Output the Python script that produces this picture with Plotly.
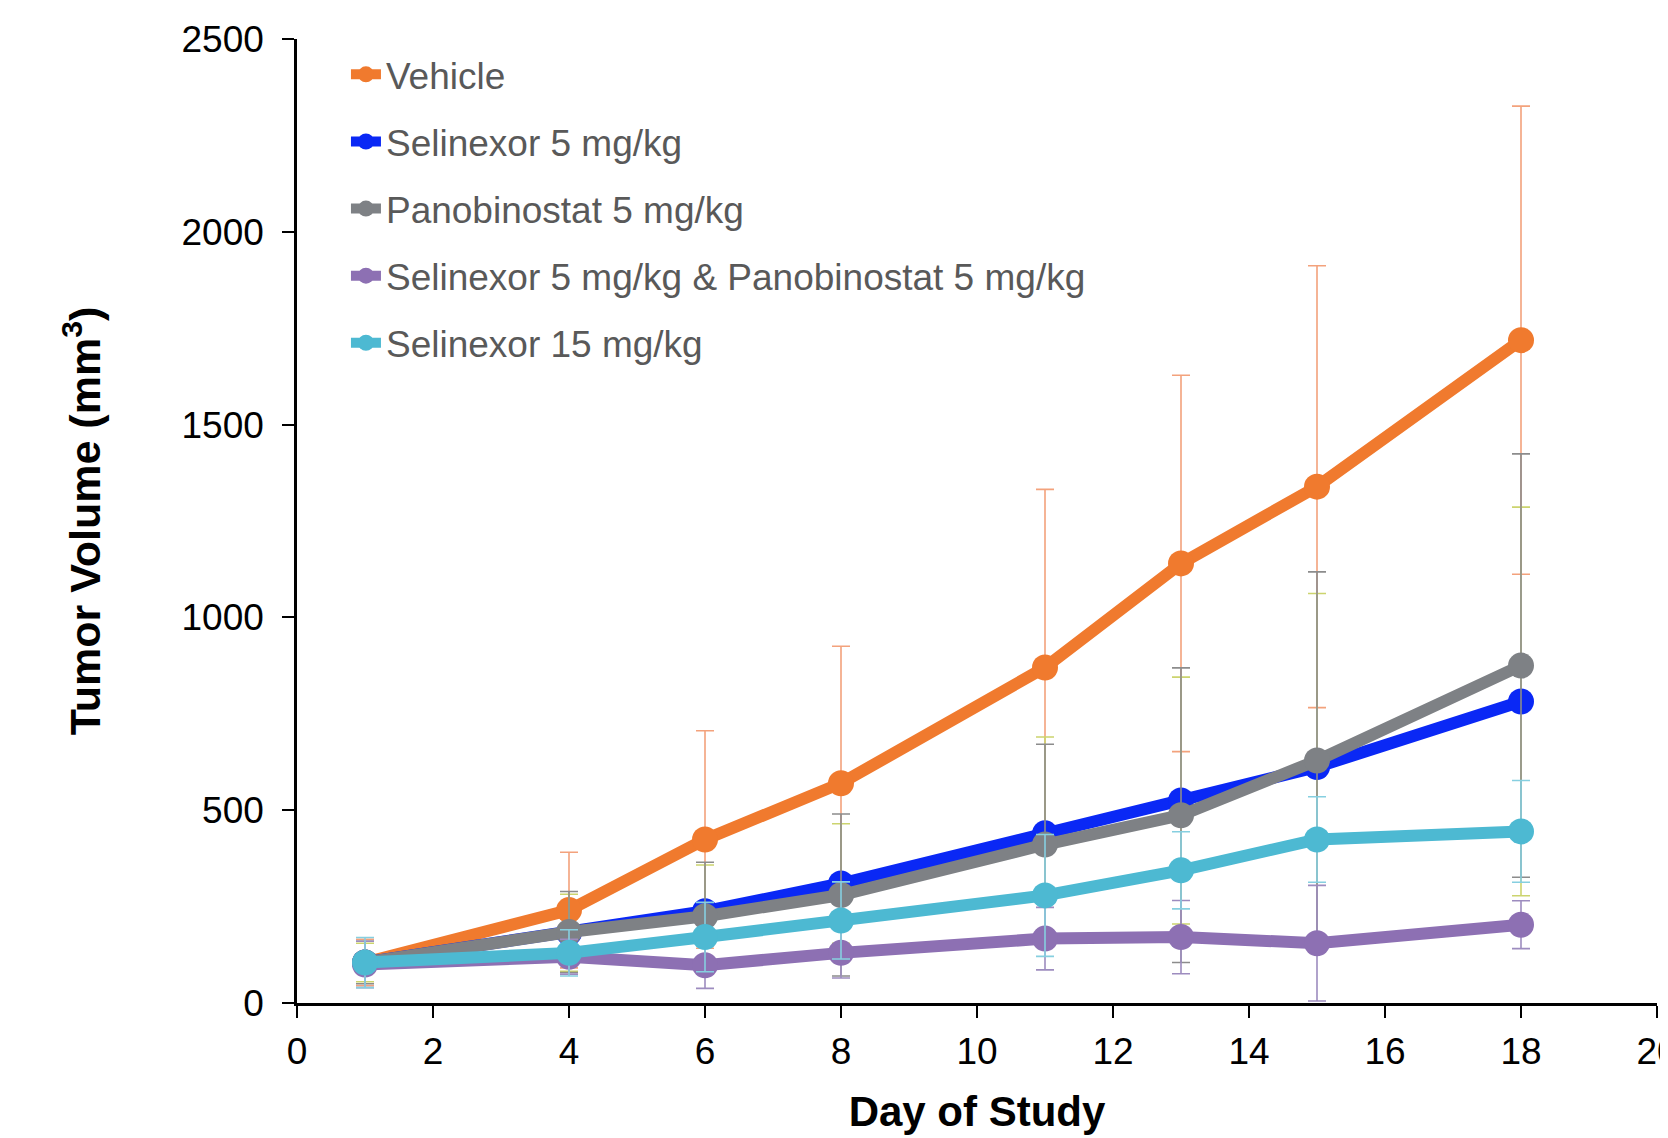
import plotly.graph_objects as go

days = [1, 4, 6, 8, 11, 13, 15, 18]

series_names = [
    "Vehicle",
    "Selinexor 5 mg/kg",
    "Panobinostat 5 mg/kg",
    "Selinexor 5 mg/kg & Panobinostat 5 mg/kg",
    "Selinexor 15 mg/kg",
]

vehicle = [105, 241, 424, 570, 870, 1140, 1339, 1719]
vehicle_sd = [60, 150, 282, 355, 462, 488, 573, 607]

selinexor5 = [105, 182, 238, 310, 440, 525, 612, 782]
selinexor5_sd = [50, 100, 120, 155, 250, 320, 450, 504]

panobinostat5 = [105, 184, 225, 280, 411, 487, 629, 875]
panobinostat5_sd = [55, 105, 140, 210, 260, 382, 489, 549]

combo = [100, 120, 98, 130, 167, 171, 155, 203]
combo_sd = [60, 45, 60, 65, 81, 95, 150, 62]

selinexor15 = [105, 130, 171, 214, 279, 344, 424, 445]
selinexor15_sd = [65, 60, 90, 100, 158, 100, 111, 132]

values = [vehicle, selinexor5, panobinostat5, combo, selinexor15]
errors = [vehicle_sd, selinexor5_sd, panobinostat5_sd, combo_sd, selinexor15_sd]

line_colors = ["#F07A2E", "#0A28F5", "#7E8185", "#8D70B3", "#4DB9D2"]
err_colors = ["#F3A27C", "#CCD46E", "#8C8C8C", "#9D8CBF", "#86CFE0"]

y_ticks = [0, 500, 1000, 1500, 2000, 2500]
x_ticks = [0, 2, 4, 6, 8, 10, 12, 14, 16, 18, 20]

font_family = "Liberation Sans, Arial, sans-serif"

fig = go.Figure()
for i, (name, vals, sd) in enumerate(zip(series_names, values, errors)):
    fig.add_trace(go.Scatter(
        x=days, y=vals, name=name, mode="lines+markers",
        legendgroup=f"g{i}",
        line=dict(color=line_colors[i], width=12),
        marker=dict(color=line_colors[i], size=26),
        error_y=dict(type="data", array=sd, visible=True,
                     color=err_colors[i], thickness=1.6, width=9),
    ))

fig.update_layout(
    width=1668, height=1138,
    margin=dict(l=289, r=19, t=31, b=143),
    paper_bgcolor="white", plot_bgcolor="white",
    font=dict(family=font_family, color="black", size=37),
    showlegend=True,
    legend=dict(
        x=0.036, y=0.995, xanchor="left", yanchor="top",
        bgcolor="rgba(0,0,0,0)",
        font=dict(size=37, color="#595959", family=font_family),
        tracegroupgap=16,
        itemwidth=30,
    ),
)

fig.update_xaxes(
    range=[0, 20], tickmode="array", tickvals=x_ticks,
    showline=True, linecolor="black", linewidth=2.5,
    ticks="outside", ticklen=12, tickwidth=2, tickcolor="black",
    showgrid=False, zeroline=False, automargin=False,
    ticklabeloverflow="allow", ticklabelstandoff=2,
    tickfont=dict(size=37, color="black"),
    title=dict(text="<b>Day of Study</b>", font=dict(size=42, color="black"), standoff=26),
)
fig.update_yaxes(
    range=[0, 2500], tickmode="array", tickvals=y_ticks,
    showline=True, linecolor="black", linewidth=2.5,
    ticks="outside", ticklen=12, tickwidth=2, tickcolor="black",
    showgrid=False, zeroline=False, automargin=False,
    ticklabeloverflow="allow", ticklabelstandoff=11,
    tickfont=dict(size=37, color="black"),
    title=dict(text="<b>Tumor Volume (mm<sup>3</sup>)</b>", font=dict(size=43, color="black"), standoff=68),
)

fig.write_html("out.html")
